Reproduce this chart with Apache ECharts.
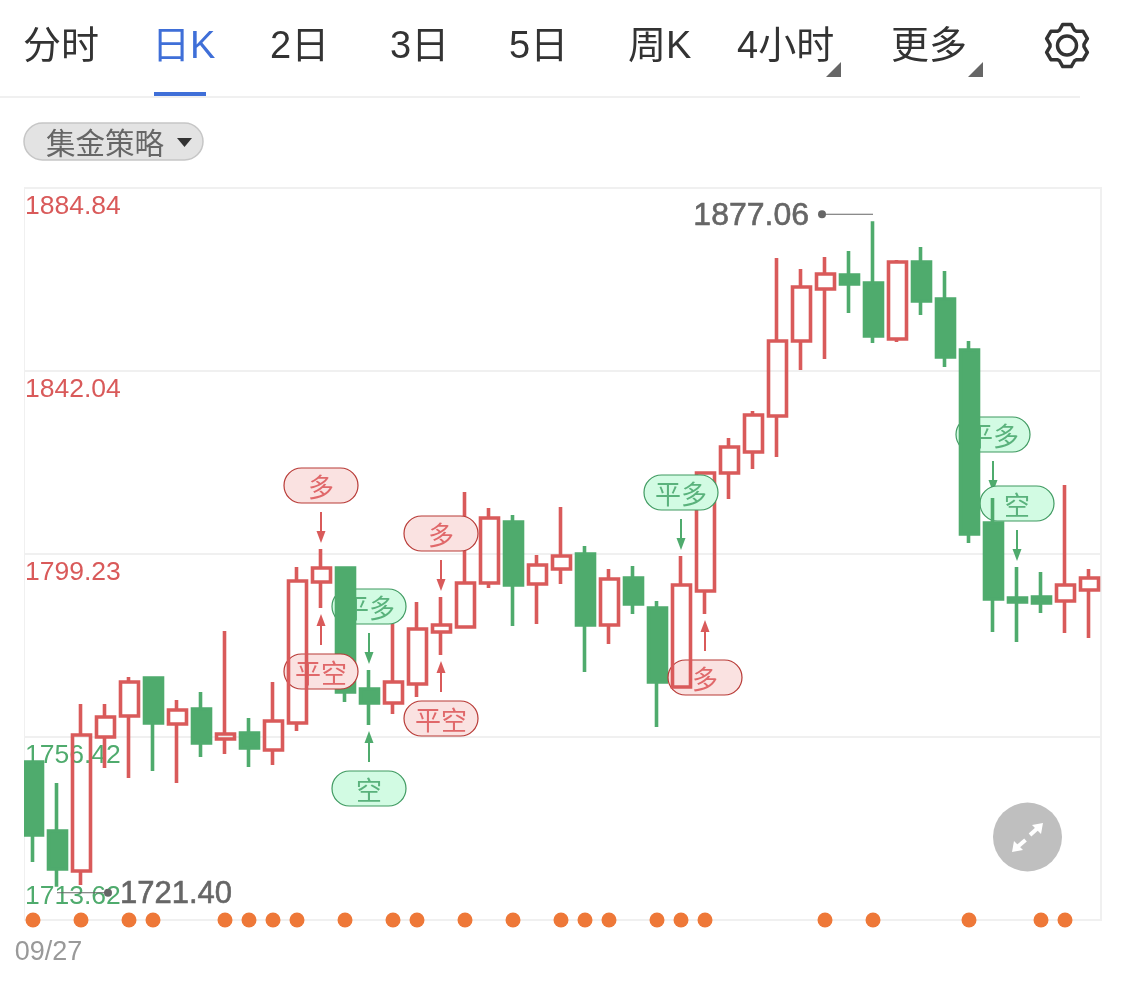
<!DOCTYPE html>
<html>
<head>
<meta charset="utf-8">
<title>日K</title>
<style>
  html, body { margin: 0; padding: 0; background: #fff; }
  #chart { width: 1125px; height: 990px; }
</style>
<script src="https://cdn.jsdelivr.net/npm/echarts@6/dist/echarts.min.js"></script>
</head>
<body>
<div id="chart"></div>
<script>
var opens = [1750.58, 1734.44, 1725.08, 1756.42, 1761.34, 1770.22, 1759.46, 1762.97, 1755.96, 1757.36, 1753.38, 1759.70, 1792.68, 1795.95, 1767.65, 1764.38, 1768.82, 1780.98, 1782.15, 1792.45, 1806.71, 1792.21, 1795.72, 1799.23, 1782.62, 1793.62, 1786.60, 1768.12, 1790.57, 1818.18, 1823.09, 1831.51, 1849.05, 1861.21, 1864.49, 1862.62, 1849.52, 1867.53, 1858.88, 1846.95, 1806.48, 1788.94, 1789.17, 1788.24, 1790.81];
var closes = [1733.50, 1725.55, 1756.89, 1761.10, 1769.29, 1759.70, 1762.74, 1755.02, 1757.13, 1753.85, 1760.17, 1792.91, 1795.95, 1766.95, 1764.38, 1769.29, 1781.69, 1782.62, 1792.45, 1807.65, 1791.98, 1796.66, 1798.76, 1782.62, 1793.38, 1787.53, 1769.29, 1791.98, 1818.18, 1824.26, 1831.74, 1849.05, 1861.68, 1864.72, 1862.38, 1850.22, 1867.53, 1858.41, 1845.31, 1803.91, 1788.70, 1788.00, 1787.77, 1791.98, 1793.62];
var lows = [1727.18, 1721.40, 1721.80, 1749.17, 1746.83, 1748.47, 1745.66, 1751.75, 1752.45, 1749.41, 1749.87, 1757.83, 1786.60, 1764.61, 1759.23, 1761.80, 1765.78, 1775.60, 1781.92, 1791.28, 1782.39, 1782.86, 1792.21, 1771.63, 1778.18, 1785.19, 1758.76, 1768.12, 1785.19, 1812.09, 1819.11, 1821.92, 1842.27, 1844.84, 1855.60, 1848.58, 1848.82, 1855.13, 1842.97, 1801.80, 1780.98, 1778.64, 1785.43, 1780.75, 1779.58];
var highs = [1750.58, 1745.66, 1764.14, 1764.14, 1770.46, 1770.22, 1765.08, 1766.95, 1781.22, 1760.87, 1769.29, 1796.19, 1800.40, 1795.95, 1772.10, 1783.09, 1788.00, 1789.17, 1813.73, 1809.99, 1808.35, 1798.99, 1810.22, 1801.10, 1795.72, 1796.42, 1788.24, 1798.76, 1818.18, 1826.36, 1832.68, 1868.47, 1865.89, 1868.70, 1870.10, 1877.06, 1868.00, 1871.04, 1865.43, 1849.05, 1812.33, 1796.19, 1795.02, 1815.37, 1795.72];

var tickValues = [1713.62, 1756.42, 1799.23, 1842.04, 1884.84];
var dotCandles = [0, 2, 4, 5, 8, 9, 10, 11, 13, 15, 16, 18, 20, 22, 23, 24, 26, 27, 28, 33, 35, 39, 42, 43];

// trade signals: which candle, text, and whether it hangs over the high or under the low
var redSignalCandles = [12, 12, 17, 17, 28];
var redSignalTexts = ['多', '平空', '多', '平空', '多'];
var redSignalSides = ['up', 'down', 'up', 'down', 'down'];
var greenSignalCandles = [14, 14, 27, 40, 41];
var greenSignalTexts = ['平多', '空', '平多', '平多', '空'];
var greenSignalSides = ['up', 'down', 'up', 'up', 'up'];

// highest and lowest price call-outs
var extremeCandles = [35, 1];
var extremeValues = [1877.06, 1721.40];

var tabNames = ['分时', '日K', '2日', '3日', '5日', '周K', '4小时', '更多'];
var tabLefts = [23, 152, 270, 390, 509, 628, 737, 891];

var RED = '#d95a5a';
var GREEN = '#4fab6d';
var LATIN = '"Liberation Sans", "Noto Sans CJK SC", sans-serif';

var categories = opens.map(function (v, i) { return i === 0 ? '09/27' : ''; });

function pickCandles(test) {
  return opens.map(function (o, i) {
    return test(i) ? [o, closes[i], lows[i], highs[i]] : ['-', '-', '-', '-'];
  });
}
function isRed(i) { return closes[i] >= opens[i]; }
// these two red candles sit on top of the pills, the others below
function isTopRed(i) { return i === 11 || i === 27; }

function candleSeries(name, z, test) {
  return {
    name: name,
    type: 'candlestick',
    z: z,
    barWidth: 18.5,
    data: pickCandles(test),
    itemStyle: {
      color: 'transparent',
      color0: GREEN,
      borderColor: RED,
      borderColor0: GREEN,
      borderWidth: 3.6
    }
  };
}

function signalSeries(name, z, candles, texts, sides, colors) {
  return {
    name: name,
    type: 'custom',
    z: z,
    clip: false,
    silent: true,
    data: candles.map(function (c, i) {
      return [c, sides[i] === 'up' ? highs[c] : lows[c]];
    }),
    renderItem: function (params, api) {
      var p = api.coord([api.value(0), api.value(1)]);
      var x = p[0];
      var dir = sides[params.dataIndex] === 'up' ? -1 : 1;
      var tip = p[1] + dir * 6;
      var tail = tip + dir * 31;
      var pillNear = tail + dir * 9;
      var pillTop = dir < 0 ? pillNear - 35 : pillNear;
      return {
        type: 'group',
        children: [
          {
            type: 'line',
            shape: { x1: x, y1: tail, x2: x, y2: tip + dir * 10 },
            style: { stroke: colors.arrow, lineWidth: 2 }
          },
          {
            type: 'polygon',
            shape: { points: [[x, tip], [x - 4.5, tip + dir * 12], [x + 4.5, tip + dir * 12]] },
            style: { fill: colors.arrow }
          },
          {
            type: 'rect',
            shape: { x: x - 37, y: pillTop, width: 74, height: 35, r: 17.5 },
            style: { fill: colors.fill, stroke: colors.border, lineWidth: 1.2 }
          },
          {
            type: 'text',
            style: {
              text: texts[params.dataIndex],
              x: x,
              y: pillTop + 19,
              align: 'center',
              verticalAlign: 'middle',
              fill: colors.text,
              font: '26px "Noto Sans CJK SC"'
            }
          }
        ]
      };
    }
  };
}

function renderExtreme(params, api) {
  var p = api.coord([api.value(0), api.value(1)]);
  var isHigh = params.dataIndex === 0;
  var y = isHigh ? p[1] - 7 : p[1] + 6;
  var dotX = isHigh ? p[0] - 51 : p[0] + 51;
  return {
    type: 'group',
    children: [
      {
        type: 'line',
        shape: { x1: p[0], y1: y, x2: dotX, y2: y },
        style: { stroke: '#666', lineWidth: 1 }
      },
      {
        type: 'circle',
        shape: { cx: dotX, cy: y, r: 4 },
        style: { fill: '#666' }
      },
      {
        type: 'text',
        style: {
          text: api.value(1).toFixed(2),
          x: isHigh ? dotX - 13 : dotX + 12,
          y: y + 2,
          align: isHigh ? 'right' : 'left',
          verticalAlign: 'middle',
          fill: '#666',
          font: (isHigh ? '32px ' : '31px ') + LATIN,
          stroke: '#666',
          lineWidth: 0.6
        }
      }
    ]
  };
}

function gearPoints(cx, cy) {
  var pts = [];
  for (var i = 0; i < 6; i++) {
    var a = -Math.PI / 2 + i * Math.PI / 3;
    [[-0.46, 17], [-0.2, 21.5], [0.2, 21.5], [0.46, 17]].forEach(function (d) {
      pts.push([cx + d[1] * Math.cos(a + d[0]), cy + d[1] * Math.sin(a + d[0])]);
    });
  }
  return pts;
}

var graphics = [
  { type: 'rect', z: 1, shape: { x: 24, y: 188, width: 1077, height: 732 }, style: { fill: 'transparent', stroke: '#f0f0f0', lineWidth: 2 } },
  { type: 'rect', z: 9, shape: { x: 0, y: 186, width: 24, height: 736 }, style: { fill: '#fff' } },
  { type: 'rect', shape: { x: 0, y: 96, width: 1080, height: 2 }, style: { fill: '#f0f0f0' } },
  { type: 'rect', shape: { x: 154, y: 92, width: 52, height: 4 }, style: { fill: '#3f6fd8' } },
  { type: 'polygon', shape: { points: [[826, 77], [841, 62], [841, 77]] }, style: { fill: '#666' } },
  { type: 'polygon', shape: { points: [[968, 77], [983, 62], [983, 77]] }, style: { fill: '#666' } },
  { type: 'polygon', shape: { points: gearPoints(1067, 45.5), smooth: 0 }, style: { fill: 'none', stroke: '#333', lineWidth: 3.5, lineJoin: 'round' } },
  { type: 'circle', shape: { cx: 1067, cy: 45.5, r: 9.5 }, style: { fill: 'none', stroke: '#333', lineWidth: 3.5 } },
  { type: 'rect', shape: { x: 24, y: 123, width: 179, height: 37, r: 18.5 }, style: { fill: '#e3e3e3', stroke: '#c6c6c6', lineWidth: 1.5 } },
  { type: 'text', style: { text: '集金策略', x: 46, y: 143, verticalAlign: 'middle', fill: '#666', font: '29.5px "Noto Sans CJK SC"' } },
  { type: 'polygon', shape: { points: [[177, 138], [192, 138], [184.5, 147]] }, style: { fill: '#333' } },
  { type: 'circle', z: 8, shape: { cx: 1027.5, cy: 837, r: 34.5 }, style: { fill: '#bfbfbf' } },
  { type: 'line', z: 8, shape: { x1: 1030, y1: 835, x2: 1040, y2: 826 }, style: { stroke: '#fff', lineWidth: 4 } },
  { type: 'polygon', z: 8, shape: { points: [[1043, 823], [1032, 825], [1041, 834]] }, style: { fill: '#fff' } },
  { type: 'line', z: 8, shape: { x1: 1025.5, y1: 840, x2: 1015, y2: 849 }, style: { stroke: '#fff', lineWidth: 4 } },
  { type: 'polygon', z: 8, shape: { points: [[1012, 852], [1023, 850], [1014, 841]] }, style: { fill: '#fff' } }
];

tabNames.forEach(function (name, i) {
  graphics.push({
    type: 'text',
    style: {
      text: name,
      x: tabLefts[i],
      y: 48,
      verticalAlign: 'middle',
      fill: i === 1 ? '#3f6fd8' : '#333',
      font: '38px ' + LATIN
    }
  });
});

var chart = echarts.init(document.getElementById('chart'));

chart.setOption({
  animation: false,
  backgroundColor: '#fff',
  graphic: { elements: graphics },
  grid: { left: 21, top: 188, width: 1080, height: 732, containLabel: false },
  xAxis: {
    type: 'category',
    data: categories,
    axisLine: { show: false },
    axisTick: { show: false },
    splitLine: { show: false },
    axisLabel: {
      interval: 0,
      margin: 19,
      color: '#999',
      fontSize: 27,
      fontFamily: LATIN,
      align: 'center',
      padding: [0, 0, 0, 31]
    }
  },
  yAxis: {
    type: 'value',
    min: tickValues[0],
    max: tickValues[tickValues.length - 1],
    scale: true,
    axisLine: { show: false },
    axisTick: { show: false, customValues: tickValues },
    splitLine: { show: true, lineStyle: { color: '#f0f0f0', width: 2 } },
    axisLabel: {
      inside: true,
      margin: 4,
      customValues: tickValues,
      showMinLabel: true,
      showMaxLabel: true,
      hideOverlap: false,
      fontFamily: LATIN,
      fontSize: 26.5,
      formatter: function (v) {
        var s = v.toFixed(2);
        if (v === tickValues[0]) return '{bottom|' + s + '}';
        return (v === tickValues[1] ? '{green|' : '{red|') + s + '}';
      },
      rich: {
        red: { color: RED, fontFamily: LATIN, fontSize: 26.5, padding: [38, 0, 0, 0] },
        green: { color: GREEN, fontFamily: LATIN, fontSize: 26.5, padding: [38, 0, 0, 0] },
        bottom: { color: GREEN, fontFamily: LATIN, fontSize: 26.5, padding: [0, 0, 46, 0] }
      }
    }
  },
  series: [
    candleSeries('red', 2, function (i) { return isRed(i) && !isTopRed(i); }),
    signalSeries('green signals', 3, greenSignalCandles, greenSignalTexts, greenSignalSides, {
      arrow: GREEN, fill: '#d2fbe3', border: '#3f9a61', text: '#5ab27c'
    }),
    candleSeries('green', 4, function (i) { return !isRed(i); }),
    signalSeries('red signals', 5, redSignalCandles, redSignalTexts, redSignalSides, {
      arrow: RED, fill: '#fae2e1', border: '#b83a36', text: '#e0686a'
    }),
    candleSeries('red top', 6, isTopRed),
    {
      name: 'extremes',
      type: 'custom',
      z: 7,
      clip: false,
      silent: true,
      data: extremeCandles.map(function (c, i) { return [c, extremeValues[i]]; }),
      renderItem: renderExtreme
    },
    {
      name: 'dots',
      type: 'scatter',
      z: 7,
      clip: false,
      silent: true,
      symbolSize: 15,
      itemStyle: { color: '#ee7838', opacity: 1 },
      data: dotCandles.map(function (c) { return [c, tickValues[0]]; })
    }
  ]
});
</script>
</body>
</html>
